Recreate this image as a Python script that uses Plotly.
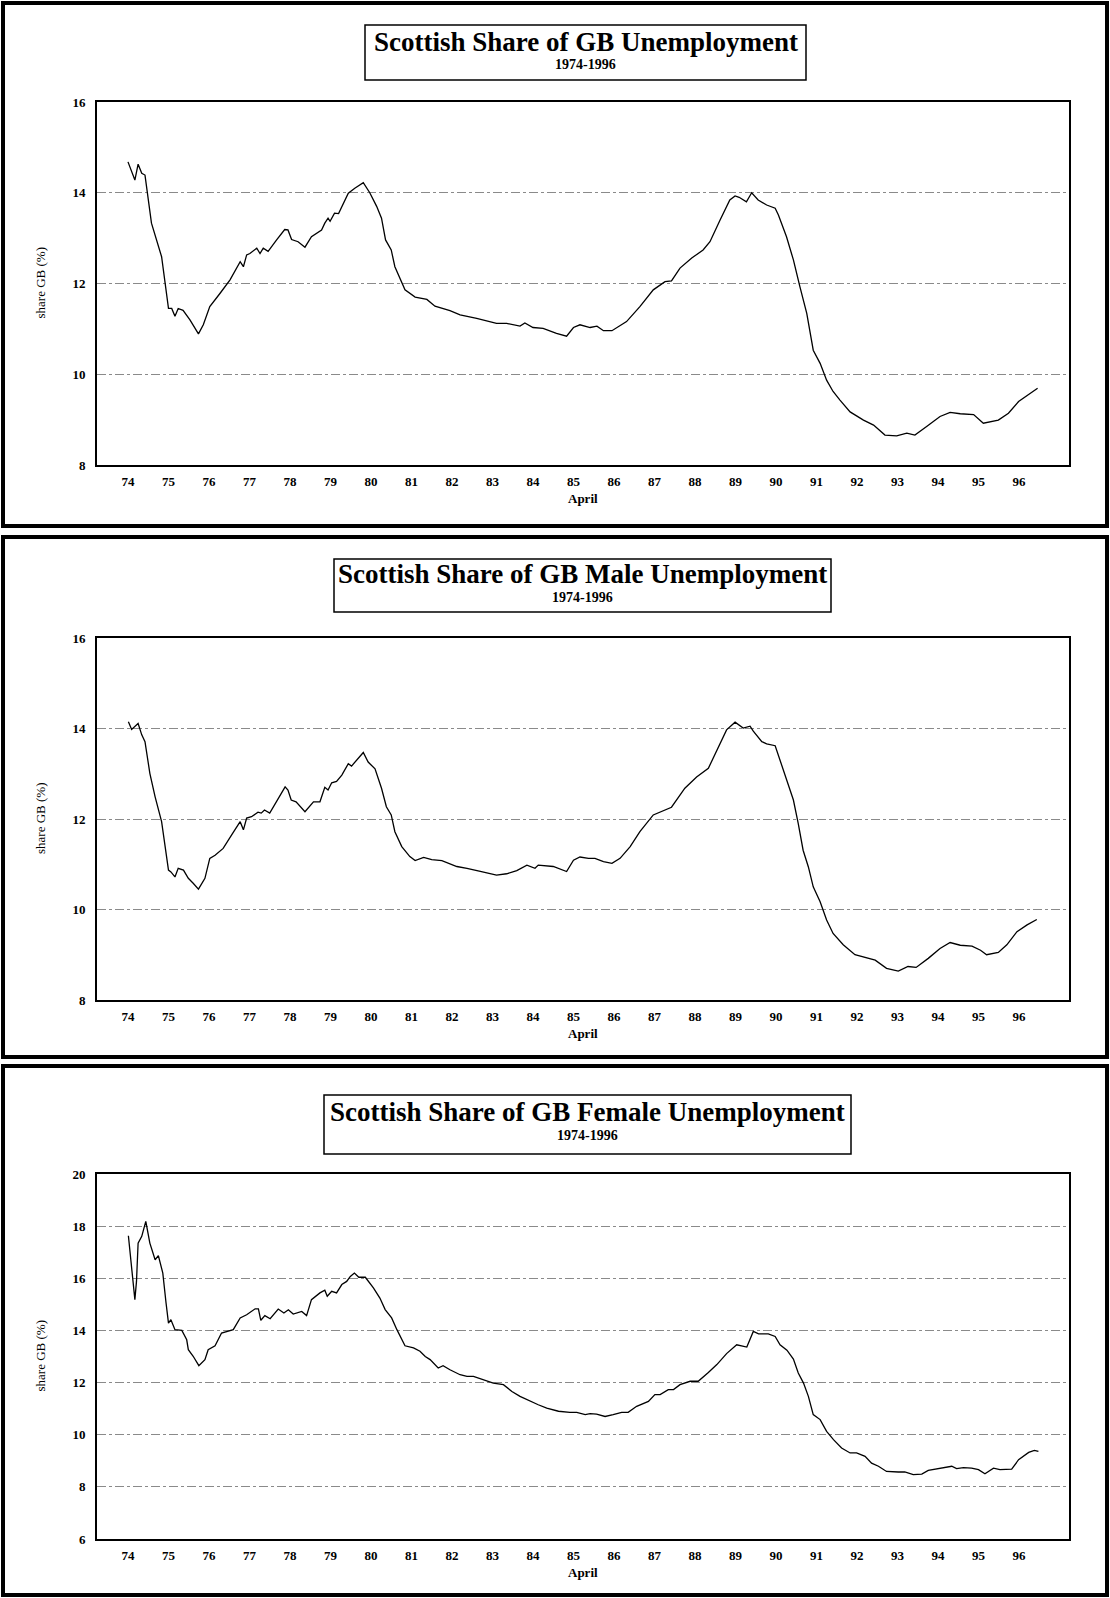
import plotly.graph_objects as go

# ---------------- data ----------------
years = [74, 75, 76, 77, 78, 79, 80, 81, 82, 83, 84, 85, 86, 87, 88, 89, 90, 91, 92, 93, 94, 95, 96]
year_labels = [str(y) for y in years]

total_x = [74.00, 74.17, 74.25, 74.34, 74.42, 74.58, 74.83, 74.95, 75.00, 75.08, 75.16, 75.24, 75.36,
           75.53, 75.74, 75.86, 76.02, 76.27, 76.52, 76.77, 76.85, 76.93, 77.01, 77.18, 77.26, 77.34,
           77.46, 77.67, 77.87, 77.95, 78.04, 78.20, 78.37, 78.53, 78.70, 78.78, 78.86, 78.94, 78.99,
           79.10, 79.20, 79.32, 79.44, 79.60, 79.68, 79.81, 79.97, 80.14, 80.26, 80.36, 80.50, 80.59,
           80.84, 81.09, 81.38, 81.58, 81.95, 82.20, 82.61, 83.10, 83.35, 83.68, 83.80, 84.00, 84.25,
           84.58, 84.83, 85.00, 85.16, 85.41, 85.58, 85.74, 85.95, 86.31, 86.64, 86.97, 87.26, 87.42,
           87.63, 87.92, 88.20, 88.37, 88.62, 88.86, 88.99, 89.09, 89.27, 89.40, 89.56, 89.77, 89.98,
           90.06, 90.26, 90.43, 90.59, 90.76, 90.92, 91.09, 91.25, 91.41, 91.58, 91.83, 92.16, 92.41,
           92.69, 92.98, 93.23, 93.43, 93.72, 94.05, 94.30, 94.55, 94.88, 95.12, 95.49, 95.74, 95.99,
           96.24, 96.46]
total_y = [14.68, 14.28, 14.63, 14.43, 14.39, 13.33, 12.59, 11.86, 11.45, 11.45, 11.28, 11.45, 11.41,
           11.20, 10.89, 11.09, 11.49, 11.78, 12.08, 12.48, 12.37, 12.63, 12.66, 12.78, 12.66, 12.78,
           12.71, 12.96, 13.19, 13.18, 12.97, 12.92, 12.80, 13.03, 13.14, 13.18, 13.33, 13.44, 13.37,
           13.55, 13.54, 13.77, 13.99, 14.10, 14.14, 14.22, 14.00, 13.70, 13.44, 12.96, 12.74, 12.37,
           11.86, 11.70, 11.65, 11.50, 11.40, 11.31, 11.23, 11.12, 11.12, 11.06, 11.13, 11.03, 11.01,
           10.90, 10.84, 11.03, 11.09, 11.03, 11.06, 10.96, 10.96, 11.16, 11.49, 11.86, 12.04, 12.06,
           12.34, 12.56, 12.74, 12.92, 13.40, 13.84, 13.93, 13.90, 13.80, 14.00, 13.84, 13.73, 13.66,
           13.51, 13.03, 12.52, 11.93, 11.34, 10.53, 10.24, 9.87, 9.62, 9.43, 9.17, 8.99, 8.88,
           8.66, 8.64, 8.70, 8.66, 8.85, 9.07, 9.16, 9.13, 9.11, 8.92, 8.99, 9.14, 9.40,
           9.55, 9.69]

male_x = [74.01, 74.09, 74.25, 74.34, 74.42, 74.54, 74.67, 74.83, 75.00, 75.06, 75.16, 75.24, 75.37,
          75.49, 75.61, 75.74, 75.90, 76.02, 76.15, 76.35, 76.56, 76.77, 76.85, 76.93, 77.05, 77.21,
          77.29, 77.37, 77.50, 77.67, 77.88, 77.95, 78.03, 78.15, 78.37, 78.58, 78.74, 78.86, 78.94,
          79.03, 79.15, 79.28, 79.44, 79.52, 79.65, 79.81, 79.93, 80.10, 80.26, 80.38, 80.50, 80.59,
          80.76, 80.96, 81.09, 81.30, 81.50, 81.75, 82.12, 82.37, 82.70, 83.10, 83.35, 83.60, 83.85,
          84.05, 84.13, 84.50, 84.83, 85.00, 85.16, 85.37, 85.53, 85.74, 85.95, 86.15, 86.40, 86.64,
          86.97, 87.30, 87.42, 87.75, 88.04, 88.33, 88.54, 88.78, 88.99, 89.19, 89.36, 89.44, 89.65,
          89.77, 89.98, 90.10, 90.26, 90.43, 90.55, 90.67, 90.80, 90.92, 91.09, 91.25, 91.41, 91.66,
          91.95, 92.24, 92.45, 92.73, 93.02, 93.26, 93.46, 93.76, 94.05, 94.30, 94.55, 94.84, 95.05,
          95.20, 95.49, 95.70, 95.95, 96.20, 96.44]
male_y = [14.15, 13.98, 14.11, 13.86, 13.71, 13.01, 12.49, 11.94, 10.87, 10.83, 10.72, 10.91, 10.87,
          10.69, 10.58, 10.45, 10.69, 11.13, 11.20, 11.35, 11.65, 11.94, 11.76, 12.02, 12.05, 12.15,
          12.13, 12.20, 12.13, 12.38, 12.71, 12.64, 12.42, 12.38, 12.16, 12.38, 12.38, 12.70, 12.64,
          12.80, 12.83, 12.97, 13.22, 13.17, 13.31, 13.47, 13.26, 13.11, 12.68, 12.27, 12.09, 11.72,
          11.39, 11.17, 11.08, 11.15, 11.10, 11.08, 10.95, 10.91, 10.84, 10.76, 10.79, 10.86, 10.98,
          10.91, 10.98, 10.95, 10.84, 11.09, 11.16, 11.13, 11.13, 11.06, 11.02, 11.13, 11.39, 11.72,
          12.09, 12.22, 12.26, 12.68, 12.93, 13.12, 13.52, 13.97, 14.14, 14.01, 14.05, 13.94, 13.71,
          13.66, 13.62, 13.30, 12.86, 12.42, 11.90, 11.31, 10.94, 10.50, 10.17, 9.77, 9.47, 9.22,
          9.00, 8.93, 8.88, 8.70, 8.64, 8.74, 8.72, 8.92, 9.14, 9.27, 9.21, 9.19, 9.10,
          9.00, 9.05, 9.22, 9.51, 9.66, 9.78]

female_x = [74.01, 74.12, 74.17, 74.21, 74.25, 74.34, 74.44, 74.54, 74.67, 74.75, 74.86, 74.94, 75.00,
            75.06, 75.16, 75.33, 75.45, 75.49, 75.61, 75.75, 75.90, 75.98, 76.15, 76.31, 76.44, 76.60,
            76.77, 76.93, 77.14, 77.22, 77.28, 77.38, 77.51, 77.71, 77.85, 77.96, 78.08, 78.29, 78.41,
            78.53, 78.74, 78.86, 78.92, 79.03, 79.15, 79.28, 79.40, 79.49, 79.59, 79.70, 79.86, 80.06,
            80.22, 80.35, 80.51, 80.64, 80.84, 81.05, 81.21, 81.34, 81.46, 81.66, 81.78, 81.95, 82.20,
            82.37, 82.53, 82.78, 83.02, 83.27, 83.48, 83.68, 83.93, 84.13, 84.34, 84.63, 84.91, 85.08,
            85.29, 85.41, 85.57, 85.78, 85.98, 86.19, 86.35, 86.56, 86.85, 87.01, 87.14, 87.34, 87.47,
            87.63, 87.88, 88.08, 88.33, 88.54, 88.78, 89.03, 89.28, 89.44, 89.57, 89.81, 89.98, 90.10,
            90.27, 90.43, 90.55, 90.68, 90.80, 90.92, 91.09, 91.25, 91.42, 91.62, 91.83, 91.99, 92.20,
            92.36, 92.53, 92.73, 93.02, 93.18, 93.39, 93.60, 93.76, 94.01, 94.17, 94.34, 94.46, 94.63,
            94.83, 95.00, 95.16, 95.37, 95.53, 95.82, 95.99, 96.24, 96.38, 96.48]
female_y = [17.63, 15.95, 15.18, 15.88, 17.35, 17.61, 18.18, 17.35, 16.71, 16.87, 16.20, 15.05, 14.28,
            14.41, 14.03, 14.00, 13.64, 13.26, 13.01, 12.65, 12.88, 13.26, 13.41, 13.90, 13.96, 14.03,
            14.48, 14.60, 14.83, 14.83, 14.39, 14.57, 14.45, 14.82, 14.67, 14.79, 14.63, 14.73, 14.57,
            15.18, 15.44, 15.54, 15.31, 15.50, 15.44, 15.76, 15.88, 16.07, 16.20, 16.04, 16.04, 15.63,
            15.24, 14.80, 14.48, 14.03, 13.41, 13.33, 13.20, 13.00, 12.88, 12.56, 12.65, 12.49, 12.30,
            12.24, 12.24, 12.11, 11.98, 11.92, 11.66, 11.47, 11.28, 11.15, 11.02, 10.90, 10.86, 10.86,
            10.77, 10.81, 10.79, 10.70, 10.77, 10.86, 10.86, 11.09, 11.28, 11.54, 11.54, 11.73, 11.73,
            11.92, 12.05, 12.05, 12.39, 12.69, 13.11, 13.45, 13.36, 13.96, 13.87, 13.87, 13.77, 13.45,
            13.24, 12.90, 12.37, 11.98, 11.47, 10.77, 10.58, 10.13, 9.81, 9.49, 9.30, 9.30, 9.17,
            8.91, 8.79, 8.59, 8.57, 8.57, 8.47, 8.49, 8.63, 8.70, 8.72, 8.79, 8.70, 8.74,
            8.72, 8.66, 8.50, 8.72, 8.66, 8.68, 9.04, 9.32, 9.40, 9.36]

titles = ["Scottish Share of GB Unemployment",
          "Scottish Share of GB Male Unemployment",
          "Scottish Share of GB Female Unemployment"]
subtitle = "1974-1996"
y_title = "share GB (%)"
x_title = "April"
y_ranges = [(8, 16), (8, 16), (6, 20)]
series = [(total_x, total_y), (male_x, male_y), (female_x, female_y)]

# ---------------- layout helpers (pixel geometry) ----------------
W, H = 1110, 1598
FONT = "Liberation Serif, Times New Roman, serif"


def px(x):
    return x / W


def py(y):
    return 1 - y / H


plot_left, plot_right = 97, 1069
plot_boxes = [(102, 465), (638, 1000), (1174, 1539)]          # top, bottom (pixels)
frames = [(3, 526), (537, 1057), (1066, 1595)]
title_boxes = [(365, 806, 25, 80), (334, 831, 559, 612), (324, 851, 1095, 1154)]
title_y = [(42, 65), (574, 597), (1112, 1135)]

fig = go.Figure()
layout = dict(
    autosize=True,
    margin=dict(l=0, r=0, t=0, b=0, autoexpand=False),
    paper_bgcolor="white", plot_bgcolor="white",
    showlegend=False,
    font=dict(family=FONT, color="black"),
)

shapes = []
annotations = []

for i, ((sx, sy), (top, bot), (ymin, ymax)) in enumerate(zip(series, plot_boxes, y_ranges)):
    k = "" if i == 0 else str(i + 1)
    fig.add_trace(go.Scatter(
        x=sx, y=sy, mode="lines",
        line=dict(color="black", width=1.3),
        xaxis="x" + k, yaxis="y" + k, hoverinfo="skip",
    ))
    layout["xaxis" + k] = dict(
        domain=[px(plot_left), px(plot_right)],
        anchor="y" + k,
        range=[73.235, 97.235],
        tickmode="array", tickvals=years, ticktext=year_labels,
        showgrid=False, zeroline=False, automargin=False,
        showline=True, mirror=True, linecolor="black", linewidth=2,
        ticks="", ticklabelstandoff=3,
        tickfont=dict(family=FONT, size=13, color="black", weight="bold"),
    )
    layout["yaxis" + k] = dict(
        domain=[py(bot), py(top)],
        anchor="x" + k,
        range=[ymin, ymax],
        tickmode="linear", tick0=ymin, dtick=2,
        showgrid=True, gridcolor="#8a8a8a", gridwidth=1, griddash="dashdot",
        zeroline=False, automargin=False,
        showline=True, mirror=True, linecolor="black", linewidth=2,
        ticks="", ticklabelstandoff=7,
        tickfont=dict(family=FONT, size=13, color="black", weight="bold"),
    )

    # outer panel frame
    ft, fb = frames[i]
    shapes.append(dict(type="rect", xref="paper", yref="paper",
                       x0=px(3), x1=px(1107), y0=py(fb), y1=py(ft),
                       line=dict(color="black", width=4), fillcolor="rgba(0,0,0,0)"))
    # title box
    bx0, bx1, by0, by1 = title_boxes[i]
    shapes.append(dict(type="rect", xref="paper", yref="paper",
                       x0=px(bx0), x1=px(bx1), y0=py(by1), y1=py(by0),
                       line=dict(color="black", width=1.5), fillcolor="white"))
    cx = px((bx0 + bx1) / 2)
    ty, sty = title_y[i]
    annotations.append(dict(xref="paper", yref="paper", x=cx, y=py(ty),
                            text="<b>" + titles[i] + "</b>", showarrow=False,
                            xanchor="center", yanchor="middle",
                            font=dict(family=FONT, size=27, color="black")))
    annotations.append(dict(xref="paper", yref="paper", x=cx, y=py(sty),
                            text="<b>" + subtitle + "</b>", showarrow=False,
                            xanchor="center", yanchor="middle",
                            font=dict(family=FONT, size=14, color="black")))
    # y axis title
    annotations.append(dict(xref="paper", yref="paper", x=px(40), y=py((top + bot) / 2),
                            text=y_title, showarrow=False, textangle=-90,
                            xanchor="center", yanchor="middle",
                            font=dict(family=FONT, size=13, color="black")))
    # x axis title
    annotations.append(dict(xref="paper", yref="paper", x=px((plot_left + plot_right) / 2),
                            y=py(bot + 33),
                            text="<b>" + x_title + "</b>", showarrow=False,
                            xanchor="center", yanchor="middle",
                            font=dict(family=FONT, size=13, color="black")))

layout["shapes"] = shapes
layout["annotations"] = annotations
fig.update_layout(**layout)
fig.write_html(
    "out.html",
    config={"displayModeBar": False, "responsive": True},
    default_width="100vw",
    default_height="100vh",
    post_script=(
        "document.documentElement.style.margin='0';document.documentElement.style.overflow='hidden';"
        "document.body.style.margin='0';document.body.style.padding='0';document.body.style.overflow='hidden';"
        "var d=document.getElementById('{plot_id}');"
        "d.style.position='fixed';d.style.top='0px';d.style.left='0px';"
        "d.style.width='100vw';d.style.height='100vh';"
        "Plotly.Plots.resize(d);"
    ),
)
